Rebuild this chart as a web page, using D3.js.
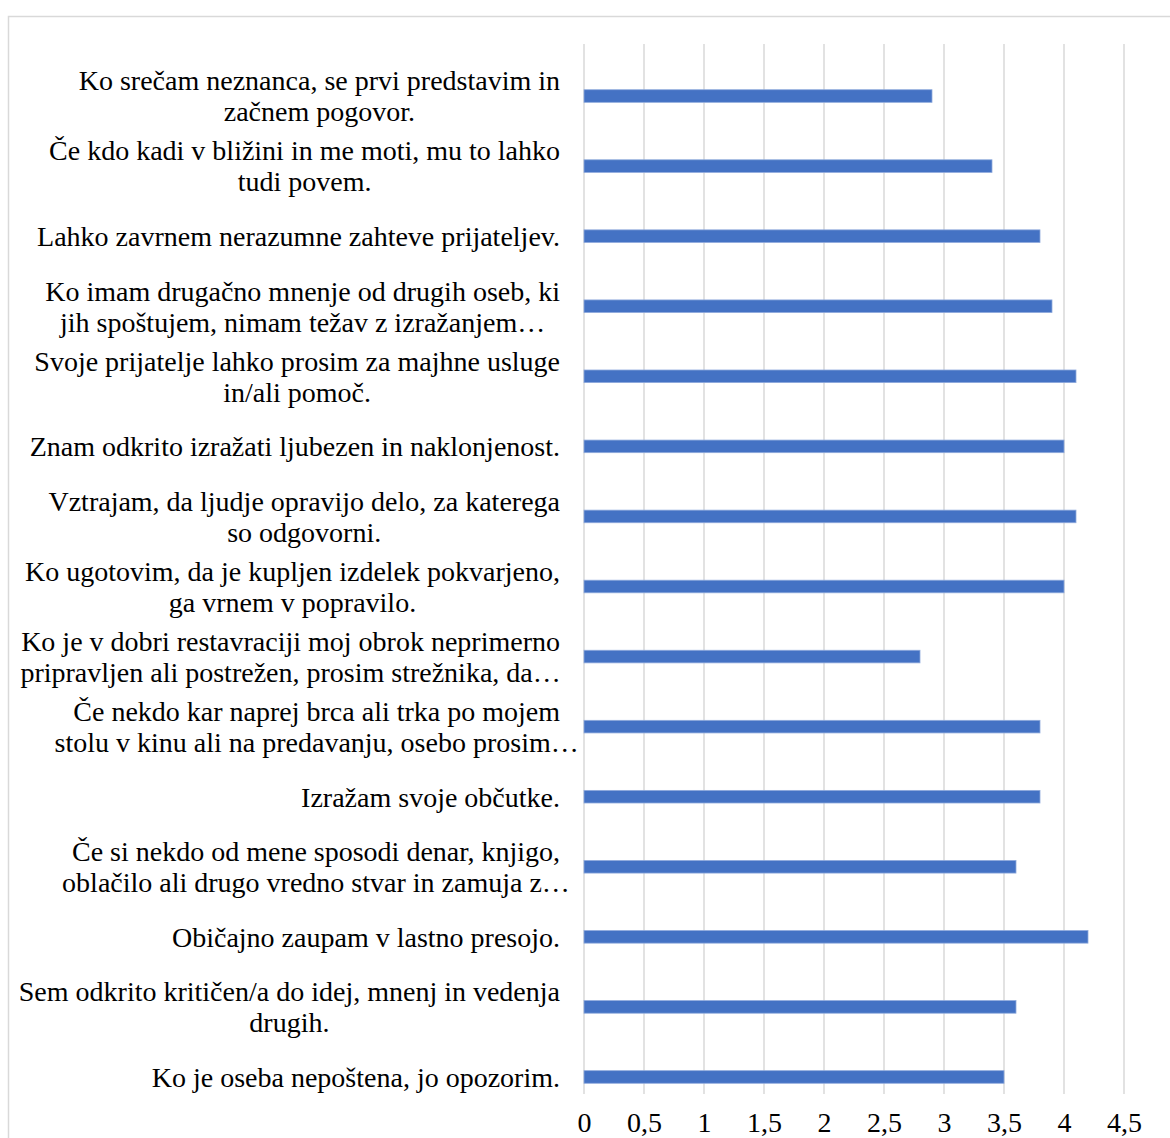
<!DOCTYPE html>
<html>
<head>
<meta charset="utf-8">
<script src="https://cdn.jsdelivr.net/npm/d3@7"></script>
<style>
  html, body { margin: 0; padding: 0; background: #fff; }
  svg { display: block; }
</style>
</head>
<body>
<svg id="chart" width="1170" height="1138"></svg>
<script>
// Survey statements (top to bottom), each split into its displayed lines
const statements = [
  ["Ko srečam neznanca, se prvi predstavim in", "začnem pogovor."],
  ["Če kdo kadi v bližini in me moti, mu to lahko", "tudi povem."],
  ["Lahko zavrnem nerazumne zahteve prijateljev."],
  ["Ko imam drugačno mnenje od drugih oseb, ki", "jih spoštujem, nimam težav z izražanjem…"],
  ["Svoje prijatelje lahko prosim za majhne usluge", "in/ali pomoč."],
  ["Znam odkrito izražati ljubezen in naklonjenost."],
  ["Vztrajam, da ljudje opravijo delo, za katerega", "so odgovorni."],
  ["Ko ugotovim, da je kupljen izdelek pokvarjeno,", "ga vrnem v popravilo."],
  ["Ko je v dobri restavraciji moj obrok neprimerno", "pripravljen ali postrežen, prosim strežnika, da…"],
  ["Če nekdo kar naprej brca ali trka po mojem", "stolu v kinu ali na predavanju, osebo prosim…"],
  ["Izražam svoje občutke."],
  ["Če si nekdo od mene sposodi denar, knjigo,", "oblačilo ali drugo vredno stvar in zamuja z…"],
  ["Običajno zaupam v lastno presojo."],
  ["Sem odkrito kritičen/a do idej, mnenj in vedenja", "drugih."],
  ["Ko je oseba nepoštena, jo opozorim."]
];

// Mean agreement score per statement
const scores = [2.9, 3.4, 3.8, 3.9, 4.1, 4.0, 4.1, 4.0, 2.8, 3.8, 3.8, 3.6, 4.2, 3.6, 3.5];

// Axis ticks
const xTicks = [0, 0.5, 1, 1.5, 2, 2.5, 3, 3.5, 4, 4.5];

const svg = d3.select("#chart");
const font = "'Liberation Serif', 'Times New Roman', serif";
const fontSize = 28;

// Outer chart frame
svg.append("rect")
  .attr("x", 8.5).attr("y", 16.5)
  .attr("width", 1180).attr("height", 1200)
  .attr("fill", "none")
  .attr("stroke", "#d9d9d9")
  .attr("stroke-width", 1.5);

const plot = { left: 584, right: 1124, top: 44, bottom: 1094 };

const x = d3.scaleLinear().domain([0, 4.5]).range([plot.left, plot.right]);

const ids = statements.map((d, i) => i);
const y = d3.scaleBand()
  .domain(ids)
  .range([61, 1112])
  .paddingInner(0.82)
  .paddingOuter(0.41);

// Vertical gridlines
svg.append("g")
  .selectAll("line")
  .data(xTicks)
  .join("line")
  .attr("x1", d => x(d)).attr("x2", d => x(d))
  .attr("y1", plot.top).attr("y2", plot.bottom)
  .attr("stroke", "#d9d9d9")
  .attr("stroke-width", 1.5);

// Bars
svg.append("g")
  .selectAll("rect")
  .data(scores)
  .join("rect")
  .attr("x", x(0))
  .attr("y", (d, i) => y(i))
  .attr("width", d => x(d) - x(0))
  .attr("height", y.bandwidth())
  .attr("fill", "#4472c4")
  .attr("stroke", "#8faadc")
  .attr("stroke-width", 0.8);

// Tick labels along the bottom (decimal comma)
const fmt = d => String(d).replace(".", ",");
const xAxis = d3.axisBottom(x).tickValues(xTicks).tickFormat(fmt).tickSize(0).tickPadding(0);
const gx = svg.append("g").attr("transform", `translate(0, 1112)`).call(xAxis);
gx.select(".domain").remove();
gx.selectAll("text")
  .attr("font-family", font)
  .attr("font-size", fontSize)
  .attr("fill", "#000")
  .attr("dy", "0.71em");

// Category labels: first line flush right, remaining lines centred on it
const labelRight = 560;
const lineGap = 31;
const lg = svg.append("g")
  .attr("font-family", font)
  .attr("font-size", fontSize)
  .attr("fill", "#000");

statements.forEach((lines, i) => {
  const cy = y(i) + y.bandwidth() / 2;
  const probe = lg.append("text").text(lines[0]);
  const w = probe.node().getComputedTextLength();
  probe.remove();
  const cx = labelRight - w / 2;
  const y0 = cy - (lines.length - 1) * lineGap / 2;
  lines.forEach((t, k) => {
    lg.append("text")
      .attr("x", cx)
      .attr("y", y0 + k * lineGap)
      .attr("text-anchor", "middle")
      .attr("dy", "0.35em")
      .text(t);
  });
});
</script>
</body>
</html>
